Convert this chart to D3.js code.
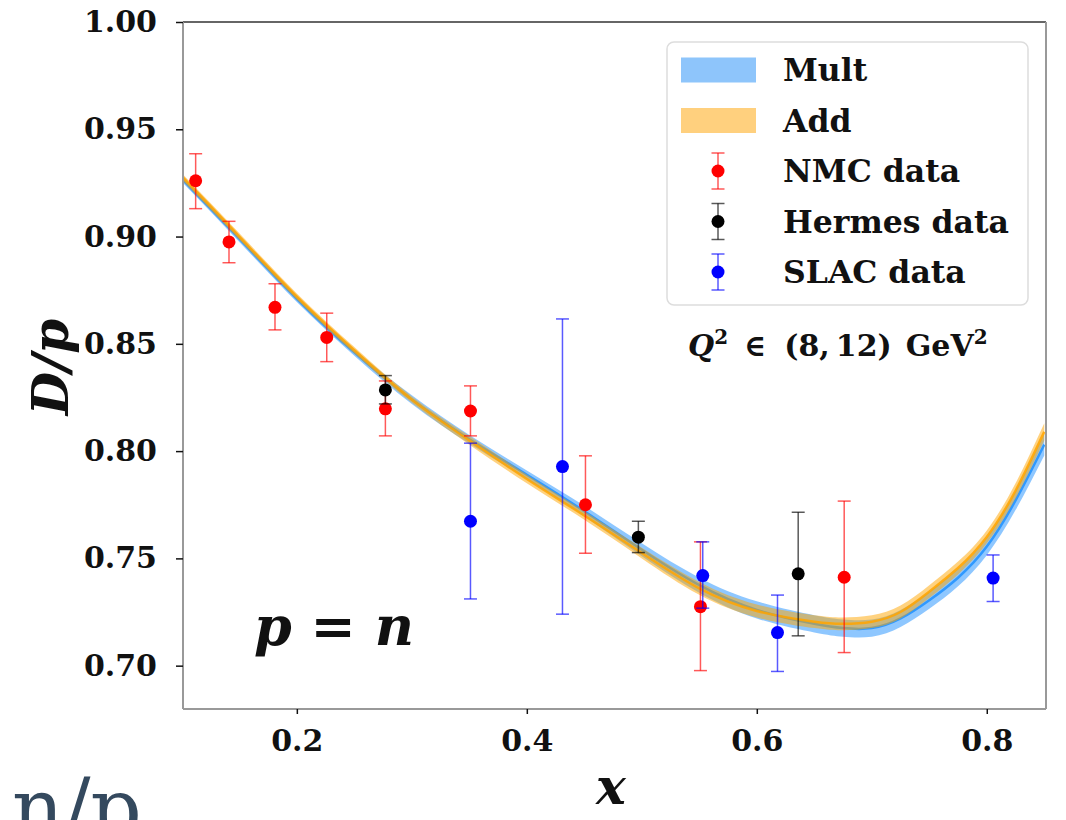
<!DOCTYPE html>
<html>
<head>
<meta charset="utf-8">
<script src="https://cdn.jsdelivr.net/npm/d3@7"></script>
<style>
  html, body { margin: 0; padding: 0; background: #fff; }
  svg { display: block; font-family: "DejaVu Serif", serif; }
</style>
</head>
<body>
<svg id="chart" width="1066" height="820"></svg>
<script>
// curve grid (x) and the two fits
const gridX   = [0.10, 0.15, 0.20, 0.25, 0.30, 0.35, 0.40, 0.45, 0.50, 0.55, 0.60, 0.65, 0.675, 0.70, 0.725, 0.75, 0.775, 0.80, 0.825, 0.85];
const multMid = [0.927, 0.899, 0.871, 0.846, 0.824, 0.8055, 0.789, 0.772, 0.754, 0.7375, 0.726, 0.7195, 0.7175, 0.7175, 0.722, 0.7305, 0.741, 0.7555, 0.777, 0.803];
const multErr = [0.0015, 0.0015, 0.0015, 0.0015, 0.002, 0.002, 0.002, 0.0025, 0.003, 0.0035, 0.004, 0.004, 0.004, 0.004, 0.004, 0.004, 0.004, 0.004, 0.0045, 0.005];
const addMid  = [0.928, 0.900, 0.872, 0.847, 0.824, 0.805, 0.787, 0.770, 0.7525, 0.736, 0.7255, 0.7205, 0.7195, 0.7205, 0.725, 0.7345, 0.7455, 0.760, 0.7815, 0.809];
const addErr  = [0.0015, 0.0015, 0.0015, 0.0015, 0.0015, 0.002, 0.002, 0.002, 0.0025, 0.003, 0.003, 0.003, 0.003, 0.003, 0.003, 0.003, 0.003, 0.003, 0.0035, 0.004];

// data sets: x, value, lower edge, upper edge
const nmcX  = [0.112, 0.141, 0.181, 0.226, 0.277, 0.351, 0.451, 0.551, 0.676];
const nmcY  = [0.926, 0.8975, 0.867, 0.853, 0.8197, 0.8187, 0.775, 0.7275, 0.7412];
const nmcLo = [0.913, 0.8878, 0.8565, 0.8417, 0.8071, 0.8071, 0.7524, 0.6977, 0.7061];
const nmcHi = [0.9386, 0.9071, 0.878, 0.8643, 0.8327, 0.8304, 0.7978, 0.7577, 0.7767];

const hermesX  = [0.277, 0.497, 0.636];
const hermesY  = [0.8285, 0.7599, 0.7428];
const hermesLo = [0.822, 0.7527, 0.7139];
const hermesHi = [0.8352, 0.7673, 0.7715];

const slacX  = [0.351, 0.431, 0.553, 0.618, 0.8055];
const slacY  = [0.7673, 0.7928, 0.742, 0.7154, 0.7408];
const slacLo = [0.7311, 0.724, 0.7268, 0.6973, 0.7299];
const slacHi = [0.8037, 0.8616, 0.7577, 0.7329, 0.7516];

const yTicks = [0.70, 0.75, 0.80, 0.85, 0.90, 0.95, 1.00];
const xTicks = [0.2, 0.4, 0.6, 0.8];

const legendItems = [
  { label: 'Mult', kind: 'band', fill: '#8ec5fb' },
  { label: 'Add', kind: 'band', fill: '#ffd07e' },
  { label: 'NMC data', kind: 'pt', color: '#ff0000' },
  { label: 'Hermes data', kind: 'pt', color: '#000000' },
  { label: 'SLAC data', kind: 'pt', color: '#0000ff' }
];

const svg = d3.select('#chart');
const L = 183, R = 1046, T = 22, B = 709;

const x = d3.scaleLinear().domain([0.101, 0.8515]).range([L, R]);
const y = d3.scaleLinear().domain([0.6798, 1.0]).range([B, T]);

svg.append('defs').append('clipPath').attr('id', 'plotclip')
  .append('rect').attr('x', L).attr('y', T).attr('width', R - L).attr('height', B - T);

const plot = svg.append('g').attr('clip-path', 'url(#plotclip)');

function drawFit(mid, err, bandColor, lineColor) {
  const rows = gridX.map((gx, i) => ({ x: gx, m: mid[i], e: err[i] }));
  const area = d3.area().curve(d3.curveNatural)
    .x(d => x(d.x)).y0(d => y(d.m - d.e)).y1(d => y(d.m + d.e));
  const line = d3.line().curve(d3.curveNatural)
    .x(d => x(d.x)).y(d => y(d.m));
  plot.append('path').attr('d', area(rows)).attr('fill', bandColor).attr('fill-opacity', 0.5);
  plot.append('path').attr('d', line(rows)).attr('fill', 'none')
    .attr('stroke', lineColor).attr('stroke-width', 2.5).attr('stroke-opacity', 0.85);
}
drawFit(multMid, multErr, '#1e90ff', '#1e90ff');
drawFit(addMid, addErr, '#ffa500', '#ffa500');

function drawPoints(xs, ys, lo, hi, color) {
  const g = plot.append('g');
  xs.forEach((px, i) => {
    const cx = x(px);
    g.append('line').attr('x1', cx).attr('x2', cx).attr('y1', y(lo[i])).attr('y2', y(hi[i]))
      .attr('stroke', color).attr('stroke-width', 1.5).attr('stroke-opacity', 0.65);
    [lo[i], hi[i]].forEach(v => {
      g.append('line').attr('x1', cx - 6.5).attr('x2', cx + 6.5).attr('y1', y(v)).attr('y2', y(v))
        .attr('stroke', color).attr('stroke-width', 1.5).attr('stroke-opacity', 0.65);
    });
    g.append('circle').attr('cx', cx).attr('cy', y(ys[i])).attr('r', 6.5).attr('fill', color);
  });
}
drawPoints(nmcX, nmcY, nmcLo, nmcHi, '#ff0000');
drawPoints(hermesX, hermesY, hermesLo, hermesHi, '#000000');
drawPoints(slacX, slacY, slacLo, slacHi, '#0000ff');

// spines
svg.append('line').attr('x1', L).attr('x2', R).attr('y1', T).attr('y2', T).attr('stroke', '#333').attr('stroke-width', 1.5);
svg.append('line').attr('x1', L).attr('x2', L).attr('y1', T).attr('y2', B).attr('stroke', '#999').attr('stroke-width', 2);
svg.append('line').attr('x1', R).attr('x2', R).attr('y1', T).attr('y2', B).attr('stroke', '#999').attr('stroke-width', 2);
svg.append('line').attr('x1', L).attr('x2', R).attr('y1', B).attr('y2', B).attr('stroke', '#999').attr('stroke-width', 2);

// axes
const yAxis = svg.append('g').attr('transform', `translate(${L},0)`)
  .call(d3.axisLeft(y).tickValues(yTicks).tickFormat(d3.format('.2f')).tickSize(7).tickPadding(19));
const xAxis = svg.append('g').attr('transform', `translate(0,${B})`)
  .call(d3.axisBottom(x).tickValues(xTicks).tickFormat(d3.format('.1f')).tickSize(5).tickPadding(16));
[yAxis, xAxis].forEach(a => {
  a.select('.domain').remove();
  a.selectAll('.tick line').attr('stroke', '#111').attr('stroke-width', 1.5);
  a.selectAll('.tick text').attr('font-family', '"DejaVu Serif", serif')
    .attr('font-size', 30).attr('font-weight', 'bold').attr('fill', '#111');
});

// axis titles
svg.append('text').attr('x', 611).attr('y', 804).attr('text-anchor', 'middle')
  .attr('font-size', 50).attr('font-weight', 'bold').attr('font-style', 'italic').attr('fill', '#111').text('x');
svg.append('text').attr('transform', 'translate(68,367) rotate(-90)').attr('text-anchor', 'middle')
  .attr('font-size', 50).attr('font-weight', 'bold').attr('font-style', 'italic').attr('fill', '#111').text('D/p');

// annotations
svg.append('text').attr('x', 334).attr('y', 645).attr('text-anchor', 'middle')
  .attr('font-size', 54).attr('font-weight', 'bold').attr('font-style', 'italic').attr('fill', '#111')
  .text('p = n');

const q = svg.append('text').attr('x', 688).attr('y', 356).attr('font-size', 30).attr('font-weight', 'bold').attr('fill', '#111');
q.append('tspan').attr('font-style', 'italic').text('Q');
q.append('tspan').attr('font-size', 20).attr('dy', -12).text('2');
q.append('tspan').attr('dy', 12).attr('dx', 16).text('\u2208');
q.append('tspan').attr('dx', 18).text('(8,');
q.append('tspan').attr('dx', 6).text('12)');
q.append('tspan').attr('dx', 14).text('GeV');
q.append('tspan').attr('font-size', 20).attr('dy', -12).text('2');

// legend
const lg = svg.append('g');
lg.append('rect').attr('x', 667).attr('y', 42).attr('width', 361).attr('height', 263).attr('rx', 7)
  .attr('fill', '#fff').attr('fill-opacity', 0.85).attr('stroke', '#ddd').attr('stroke-width', 1.5);
legendItems.forEach((it, i) => {
  const cy = 70 + i * 50.5;
  if (it.kind === 'band') {
    lg.append('rect').attr('x', 681).attr('y', cy - 12.5).attr('width', 75).attr('height', 25).attr('fill', it.fill);
  } else {
    lg.append('line').attr('x1', 718).attr('x2', 718).attr('y1', cy - 18).attr('y2', cy + 18)
      .attr('stroke', it.color).attr('stroke-width', 1.5).attr('stroke-opacity', 0.65);
    [cy - 18, cy + 18].forEach(v => lg.append('line').attr('x1', 711.5).attr('x2', 724.5).attr('y1', v).attr('y2', v)
      .attr('stroke', it.color).attr('stroke-width', 1.5).attr('stroke-opacity', 0.65));
    lg.append('circle').attr('cx', 718).attr('cy', cy).attr('r', 6.5).attr('fill', it.color);
  }
  lg.append('text').attr('x', 783).attr('y', cy + 11).attr('font-size', 31.5).attr('font-weight', 'bold')
    .attr('fill', '#111').text(it.label);
});

// slide text peeking in at the bottom
svg.append('text').attr('x', 12).attr('y', 836).attr('font-size', 80).attr('fill', '#34495e').text('n/p');
</script>
</body>
</html>
